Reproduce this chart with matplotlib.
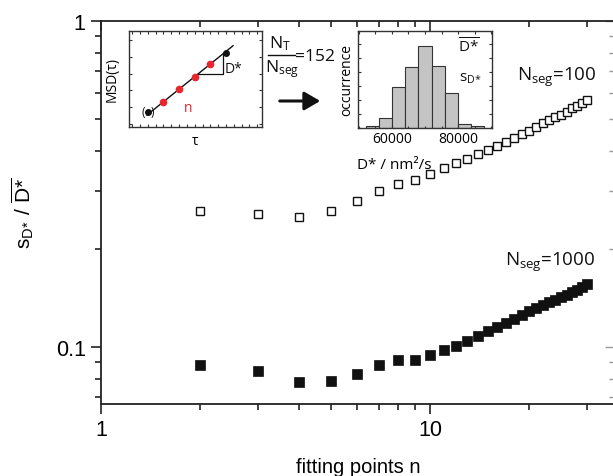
import numpy as np
import matplotlib
matplotlib.use("Agg")
import matplotlib.pyplot as plt
from matplotlib.lines import Line2D
from matplotlib.ticker import LogLocator, NullFormatter, FixedLocator, MultipleLocator

# ---------------- data ----------------
n_points = list(range(2, 31))
ratio_nseg100 = [0.261, 0.256, 0.250, 0.261, 0.281, 0.301, 0.316, 0.325, 0.340,
                 0.354, 0.367, 0.377, 0.391, 0.402, 0.414, 0.426, 0.438, 0.450,
                 0.460, 0.473, 0.486, 0.497, 0.508, 0.515, 0.526, 0.541, 0.549,
                 0.561, 0.572]
ratio_nseg1000 = [0.0881, 0.0844, 0.0781, 0.0787, 0.0826, 0.0881, 0.0912, 0.0912,
                  0.0945, 0.0979, 0.1007, 0.1043, 0.1081, 0.112, 0.1151, 0.1185,
                  0.1219, 0.1254, 0.1289, 0.1318, 0.1346, 0.1375, 0.1394, 0.1424,
                  0.1444, 0.1475, 0.1496, 0.1528, 0.156]

# inset 1: MSD sketch
tau_first = [1.0]
msd_first = [1.0]
tau_fit = [2.0, 3.0, 4.0, 5.0]
msd_fit = [1.85, 2.9, 3.95, 5.0]
tau_last = [6.0]
msd_last = [5.92]

# inset 2: histogram of D*
hist_edges = [52000, 56000, 60000, 64000, 68000, 72000, 76000, 80000, 84000, 88000]
hist_counts = [2, 10, 41, 61, 82, 62, 35, 4, 2]
hist_ticks = [60000, 80000]
hist_ticklabels = ["60000", "80000"]

W, H = 613, 477
fig = plt.figure(figsize=(W / 100, H / 100), dpi=100)

MAIN = "Liberation Sans"
INS = "Open Sans"

def fx(px):
    return px / W

def fy(py):
    return 1 - py / H

# ---------------- main axes ----------------
left, right, top, bottom = 101, 615, 22, 405
ax = fig.add_axes([fx(left), fy(bottom), (right - left) / W, (bottom - top) / H])
ax.set_xscale("log")
ax.set_yscale("log")
ax.set_xlim(1, 10 ** ((right - left) / 329))
ax.set_ylim(10 ** (-(bottom - top) / 326), 1)

ax.plot(n_points, ratio_nseg100, ls="none", marker="s", ms=6.3, mfc="white",
        mec="#111111", mew=1.0)
ax.plot(n_points, ratio_nseg1000, ls="none", marker="s", ms=6.5, mfc="#111111",
        mec="#111111", mew=0.5)

for s in ax.spines.values():
    s.set_linewidth(1.3)
    s.set_color("#222222")

ax.xaxis.set_minor_locator(LogLocator(base=10, subs=np.arange(2, 10)))
ax.xaxis.set_minor_formatter(NullFormatter())
ax.set_xticks([1, 10])
ax.set_xticklabels(["1", "10"])
ax.yaxis.set_minor_locator(LogLocator(base=10, subs=np.arange(2, 10)))
ax.yaxis.set_minor_formatter(NullFormatter())
ax.set_yticks([0.1, 1])
ax.set_yticklabels(["0.1", "1"])

ax.tick_params(which="both", bottom=True, left=True, top=False, right=False,
               direction="out", width=1.2, color="#222222",
               labelsize=15.5, pad=4)
for lab in ax.get_xticklabels() + ax.get_yticklabels():
    lab.set_fontfamily(MAIN)
ax.tick_params(which="major", length=7)
ax.tick_params(which="minor", length=4.5)

axt = ax.secondary_xaxis("top")
axt.set_xticks([1, 10])
axt.xaxis.set_minor_locator(LogLocator(base=10, subs=np.arange(2, 10)))
axt.xaxis.set_minor_formatter(NullFormatter())
axt.tick_params(which="both", direction="in", labeltop=False, width=1.2, color="#222222")
axt.tick_params(which="major", length=7)
axt.tick_params(which="minor", length=4.5)
axt.spines["top"].set_visible(False)
axr = ax.secondary_yaxis("right")
axr.set_yticks([0.1, 1])
axr.yaxis.set_minor_locator(LogLocator(base=10, subs=np.arange(2, 10)))
axr.yaxis.set_minor_formatter(NullFormatter())
axr.tick_params(which="both", direction="in", labelright=False, width=1.0, color="#999999")
axr.tick_params(which="major", length=7)
axr.tick_params(which="minor", length=4.5)
axr.spines["right"].set_visible(False)

ax.set_xlabel("fitting points n", fontfamily=MAIN, fontsize=14.5, labelpad=12)
ax.set_ylabel(r"$\mathregular{s_{D{*}}\ /\ \overline{D{*}}}$", fontfamily=MAIN,
              fontsize=15, labelpad=14)

fig.text(fx(557), fy(77), r"$\mathregular{N_{seg}}$=100", fontfamily=INS,
         fontsize=13.5, ha="center", va="center", color="#111111")
fig.text(fx(550), fy(262), r"$\mathregular{N_{seg}}$=1000", fontfamily=INS,
         fontsize=13.5, ha="center", va="center", color="#111111")

# ---------------- inset 1: MSD sketch ----------------
i1l, i1r, i1t, i1b = 129, 262, 32, 128
ax1 = fig.add_axes([fx(i1l), fy(i1b), (i1r - i1l) / W, (i1b - i1t) / H])
ax1.set_xlim(-0.2, 8.3)
ax1.set_ylim(-0.25, 7.75)
coef = np.polyfit(tau_fit, msd_fit, 1)
tline = np.array([0.95, 6.45])
ax1.plot(tline, np.polyval(coef, tline), color="#111111", lw=1.0)
ax1.plot(tau_first, msd_first, "o", color="#111111", ms=4)
ax1.plot(tau_fit, msd_fit, "o", color="#e8262b", ms=4.5)
ax1.plot(tau_last, msd_last, "o", color="#111111", ms=4)
ax1.text(tau_first[0] - 0.3, msd_first[0], "(", fontsize=8.5, ha="center",
         va="center", fontfamily=INS, color="#111111")
ax1.text(tau_first[0] + 0.3, msd_first[0], ")", fontsize=8.5, ha="center",
         va="center", fontfamily=INS, color="#111111")
t0, t1 = 4.2, 5.8
y0 = np.polyval(coef, t0)
y1 = np.polyval(coef, t1)
ax1.plot([t0, t1, t1], [y0, y0, y1], color="#111111", lw=0.9)
ax1.text(6.45, 4.6, "D*", fontsize=10, fontfamily=INS, ha="center", va="center",
         color="#111111")
ax1.text(3.6, 1.35, "n", fontsize=10, fontfamily=INS, ha="center", va="center",
         color="#e8262b")
ax1.set_xticks(np.arange(0, 8.5, 0.5))
ax1.set_yticks(np.arange(0, 7.6, 1.4))
ax1.set_xticklabels([])
ax1.set_yticklabels([])
ax1.tick_params(which="both", direction="in", top=True, right=True, length=2.2,
                width=0.8, color="#333333")
for s in ax1.spines.values():
    s.set_linewidth(1.0)
    s.set_color("#333333")
ax1.set_xlabel("τ", fontfamily=INS, fontsize=10, labelpad=1)
ax1.set_ylabel("MSD(τ)", fontfamily=INS, fontsize=10, labelpad=3)

# fraction N_T / N_seg = 152
fig.text(fx(280), fy(44), r"$\mathregular{N_T}$", fontfamily=INS, fontsize=12.5,
         ha="center", va="center", color="#111111")
fig.text(fx(282), fy(69), r"$\mathregular{N_{seg}}$", fontfamily=INS, fontsize=12.5,
         ha="center", va="center", color="#111111")
fig.lines.append(Line2D([fx(268), fx(295)], [fy(56), fy(56)], transform=fig.transFigure,
                        color="#111111", lw=1.0))
fig.text(fx(295), fy(57), "=152", fontfamily=INS, fontsize=12.5,
         ha="left", va="center", color="#111111")
fig.patches.append(matplotlib.patches.FancyArrowPatch(
    (fx(277), fy(102)), (fx(323), fy(102)), transform=fig.transFigure,
    arrowstyle="-|>,head_length=6,head_width=3.5", lw=2.2, color="#111111",
    mutation_scale=1.6))

# ---------------- inset 2: histogram ----------------
i2l, i2r, i2t, i2b = 358, 492, 32, 129
ax2 = fig.add_axes([fx(i2l), fy(i2b), (i2r - i2l) / W, (i2b - i2t) / H])
widths = np.diff(hist_edges)
ax2.bar(hist_edges[:-1], hist_counts, width=widths, align="edge", color="#c4c4c4",
        edgecolor="#333333", lw=0.8)
ax2.set_xlim(49700, 90300)
ax2.set_ylim(0, 97)
ax2.set_xticks(hist_ticks)
ax2.set_xticklabels(hist_ticklabels, fontfamily=INS, fontsize=10)
ax2.xaxis.set_minor_locator(MultipleLocator(5000))
ax2.yaxis.set_major_locator(MultipleLocator(14))
ax2.set_yticklabels([])
ax2.tick_params(which="both", direction="in", top=True, right=True, width=0.8,
                color="#333333", pad=2)
ax2.tick_params(which="major", length=2.5)
ax2.tick_params(which="minor", length=1.8)
for s in ax2.spines.values():
    s.set_linewidth(1.0)
    s.set_color("#333333")
ax2.set_ylabel("occurrence", fontfamily=INS, fontsize=10, labelpad=1)
ax2.set_xlabel("D* / nm²/s", fontfamily=INS, fontsize=11, labelpad=0)
ax2.xaxis.set_label_coords(0.27, -0.3)
ax2.text(0.83, 0.84, r"$\mathregular{\overline{D{*}}}$", transform=ax2.transAxes,
         fontfamily=INS, fontsize=11, ha="center", va="center", color="#111111")
ax2.text(0.84, 0.52, r"$\mathregular{s_{D{*}}}$", transform=ax2.transAxes,
         fontfamily=INS, fontsize=11, ha="center", va="center", color="#111111")

fig.savefig("out.png", dpi=100)
